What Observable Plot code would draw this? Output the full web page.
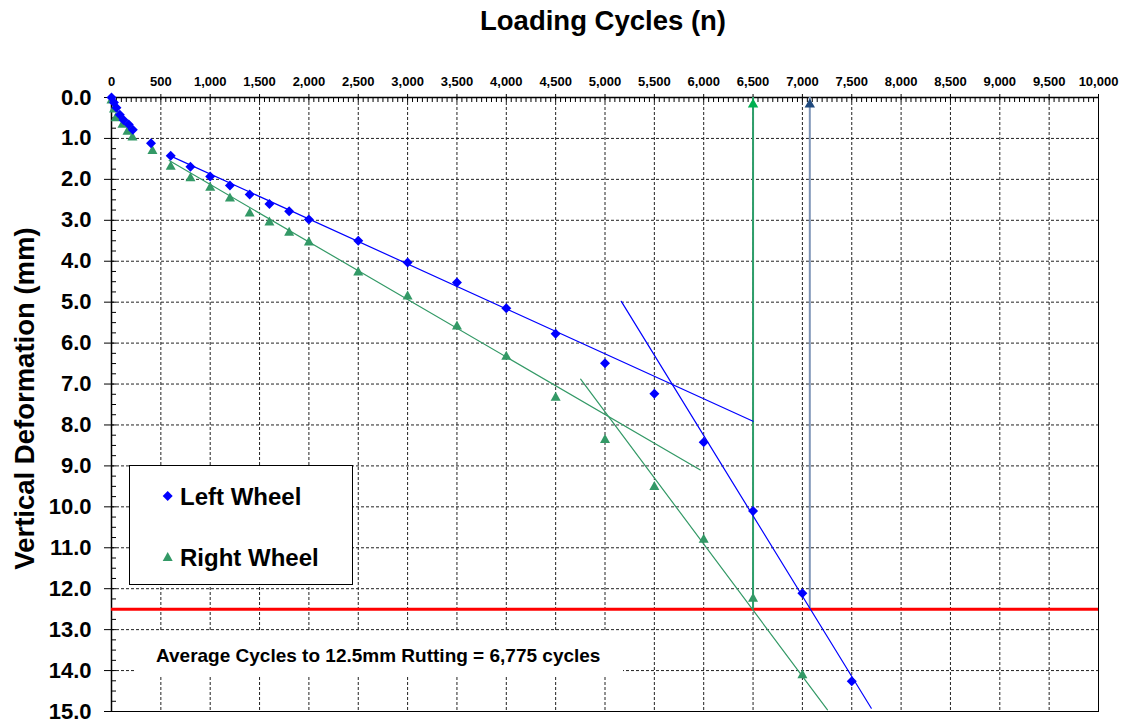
<!DOCTYPE html>
<html>
<head>
<meta charset="utf-8">
<script src="https://cdn.jsdelivr.net/npm/d3@7"></script>
<script src="https://cdn.jsdelivr.net/npm/@observablehq/plot@0.6"></script>
<style>
  html, body { margin: 0; padding: 0; background: #fff; }
  #chart { position: relative; width: 1125px; height: 728px; overflow: hidden; }
</style>
</head>
<body>
<div id="chart"></div>
<script>
// ---- Data ----
const leftCycles = [0, 25, 50, 84, 122, 175, 216, 400, 600, 800, 1000, 1200, 1400, 1600, 1800, 2000, 2500, 3000, 3500, 4000, 4500, 5000, 5500, 6000, 6500, 7000, 7500];
const leftDeform = [0, 0.12, 0.25, 0.42, 0.55, 0.66, 0.79, 1.12, 1.42, 1.69, 1.93, 2.15, 2.37, 2.6, 2.78, 2.98, 3.5, 4.03, 4.52, 5.15, 5.77, 6.49, 7.24, 8.42, 10.1, 12.11, 14.26];
const rightCycles = [0, 25, 43, 111, 162, 212, 415, 600, 800, 1000, 1200, 1400, 1600, 1800, 2000, 2500, 3000, 3500, 4000, 4500, 5000, 5500, 6000, 6500, 7000];
const rightDeform = [0.05, 0.27, 0.48, 0.64, 0.81, 0.95, 1.28, 1.67, 1.95, 2.18, 2.44, 2.81, 3.03, 3.28, 3.52, 4.25, 4.84, 5.57, 6.31, 7.31, 8.34, 9.49, 10.78, 12.22, 14.09];

// trend line end points [cycles, deformation]
const leftTrend1 = [[590, 1.42], [6500, 7.91]];
const leftTrend2 = [[5165, 4.98], [7698, 14.92]];
const rightTrend1 = [[584, 1.54], [5966, 9.1]];
const rightTrend2 = [[4753, 6.88], [7254, 14.96]];

// cycles at 12.5 mm rutting
const rightFailure = 6500;
const leftFailure = 7075;
const rutLimit = 12.5;

const xTicks = d3.range(0, 10001, 500);
const xMinorTicks = d3.range(0, 10001, 50);
const yTicks = d3.range(0, 15.01, 1);
const yMinorTicks = d3.range(0, 15.01, 0.25);
const gridX = d3.range(500, 10000, 500);
const gridY = d3.range(1, 15, 1);

const titleText = "Loading Cycles (n)";
const yLabelText = "Vertical Deformation (mm)";
const legendLabels = ["Left Wheel", "Right Wheel"];
const noteText = "Average Cycles to 12.5mm Rutting = 6,775 cycles";

// ---- Layout ----
const W = 1125, H = 728;
const mL = 111, mR = 27, mT = 97, mB = 17;
const plotW = W - mL - mR, plotH = H - mT - mB;

const BLUE = "#0000FF";
const GREEN = "#339966";

const diamondSym = { draw(ctx) { const r = 5; ctx.moveTo(0, -r); ctx.lineTo(r, 0); ctx.lineTo(0, r); ctx.lineTo(-r, 0); ctx.closePath(); } };
const triSym = { draw(ctx) { ctx.moveTo(0, -5); ctx.lineTo(5, 4); ctx.lineTo(-5, 4); ctx.closePath(); } };
const arrowSym = { draw(ctx) { ctx.moveTo(0, 1); ctx.lineTo(5.2, 10); ctx.lineTo(-5.2, 10); ctx.closePath(); } };

const left = leftCycles.map((c, i) => ({x: c, y: leftDeform[i]}));
const right = rightCycles.map((c, i) => ({x: c, y: rightDeform[i]}));
const toPts = (arr) => arr.map(([x, y]) => ({x, y}));

const FONT = "'Liberation Sans', Arial, Helvetica, sans-serif";

const chart = Plot.plot({
  width: W, height: H,
  marginLeft: mL, marginRight: mR, marginTop: mT, marginBottom: mB,
  style: {fontFamily: FONT, fontWeight: "bold", color: "#000", background: "#fff", overflow: "visible"},
  x: {domain: [0, 10000]},
  y: {domain: [0, 15], reverse: true},
  marks: [
    // grid
    Plot.ruleX(gridX, {stroke: "#222", strokeWidth: 1, strokeDasharray: "3,2"}),
    Plot.ruleY(gridY, {stroke: "#222", strokeWidth: 1, strokeDasharray: "3,2"}),
    // minor ticks
    Plot.tickX(xMinorTicks, {x: d => d, stroke: "#000", insetBottom: plotH - 5}),
    Plot.tickY(yMinorTicks, {y: d => d, stroke: "#000", insetRight: plotW - 5}),
    Plot.frame({stroke: "#000", strokeWidth: 1}),
    Plot.ruleX([0], {stroke: "#000", strokeWidth: 1.5}),
    Plot.ruleY([0], {stroke: "#000", strokeWidth: 1.5}),
    // axes
    Plot.axisX({anchor: "top", ticks: xTicks, tickFormat: d3.format(","), tickSize: 4, tickPadding: 8, fontSize: 13, fontWeight: "bold", label: null}),
    Plot.axisY({anchor: "left", ticks: yTicks, tickFormat: d => d.toFixed(1), tickSize: 7, tickPadding: 13, fontSize: 22, fontWeight: "bold", label: null}),
    // titles
    Plot.text([titleText], {frameAnchor: "top", dx: -2, dy: -68, lineAnchor: "bottom", text: d => d, textAnchor: "middle", fontSize: 27.5, fontWeight: "bold", fill: "#000"}),
    Plot.text([yLabelText], {frameAnchor: "left", dx: -86, dy: -6, rotate: -90, text: d => d, textAnchor: "middle", fontSize: 27.5, fontWeight: "bold", fill: "#000"}),
    // red limit line
    Plot.ruleY([rutLimit], {stroke: "#FF0000", strokeWidth: 3}),
    // failure verticals
    Plot.ruleX([rightFailure], {y1: 0, y2: rutLimit, stroke: "#2E9E6A", strokeWidth: 2}),
    Plot.ruleX([leftFailure], {y1: 0, y2: rutLimit, stroke: "#8096B8", strokeWidth: 2}),
    Plot.dot([rightFailure], {x: d => d, y: () => 0, symbol: arrowSym, fill: "#00B050", stroke: "none"}),
    Plot.dot([leftFailure], {x: d => d, y: () => 0, symbol: arrowSym, fill: "#1F497D", stroke: "none"}),
    // trend lines
    Plot.line(toPts(leftTrend1), {x: "x", y: "y", stroke: BLUE, strokeWidth: 1.2}),
    Plot.line(toPts(leftTrend2), {x: "x", y: "y", stroke: BLUE, strokeWidth: 1.2}),
    Plot.line(toPts(rightTrend1), {x: "x", y: "y", stroke: GREEN, strokeWidth: 1.2}),
    Plot.line(toPts(rightTrend2), {x: "x", y: "y", stroke: GREEN, strokeWidth: 1.2}),
    // data points
    Plot.dot(right, {x: "x", y: "y", symbol: triSym, fill: GREEN, stroke: "none"}),
    Plot.dot(left, {x: "x", y: "y", symbol: diamondSym, fill: BLUE, stroke: "none"})
  ]
});

document.getElementById("chart").appendChild(chart);

// ---- Legend and note ----
const svg = d3.select(chart);
const lg = svg.append("g").attr("text-anchor", "start");
lg.append("rect").attr("x", 129.5).attr("y", 465.5).attr("width", 223).attr("height", 119)
  .attr("fill", "#fff").attr("stroke", "#000").attr("stroke-width", 1);
const legendSyms = [diamondSym, triSym];
const legendCols = [BLUE, GREEN];
const legendY = [496, 557];
legendLabels.forEach((lab, i) => {
  const p = d3.path(); legendSyms[i].draw(p);
  lg.append("path").attr("d", p.toString()).attr("fill", legendCols[i])
    .attr("transform", `translate(167.7,${legendY[i]})`);
  lg.append("text").attr("x", 180).attr("y", legendY[i] + 9).attr("text-anchor", "start")
    .attr("font-size", 24).attr("font-weight", "bold").attr("fill", "#000").text(lab);
});
const ng = svg.append("g").attr("text-anchor", "start");
ng.append("rect").attr("x", 135).attr("y", 632).attr("width", 488).attr("height", 43).attr("fill", "#fff");
ng.append("text").attr("x", 156).attr("y", 662).attr("text-anchor", "start").attr("font-size", 19).attr("font-weight", "bold")
  .attr("fill", "#000").text(noteText);
</script>
</body>
</html>
